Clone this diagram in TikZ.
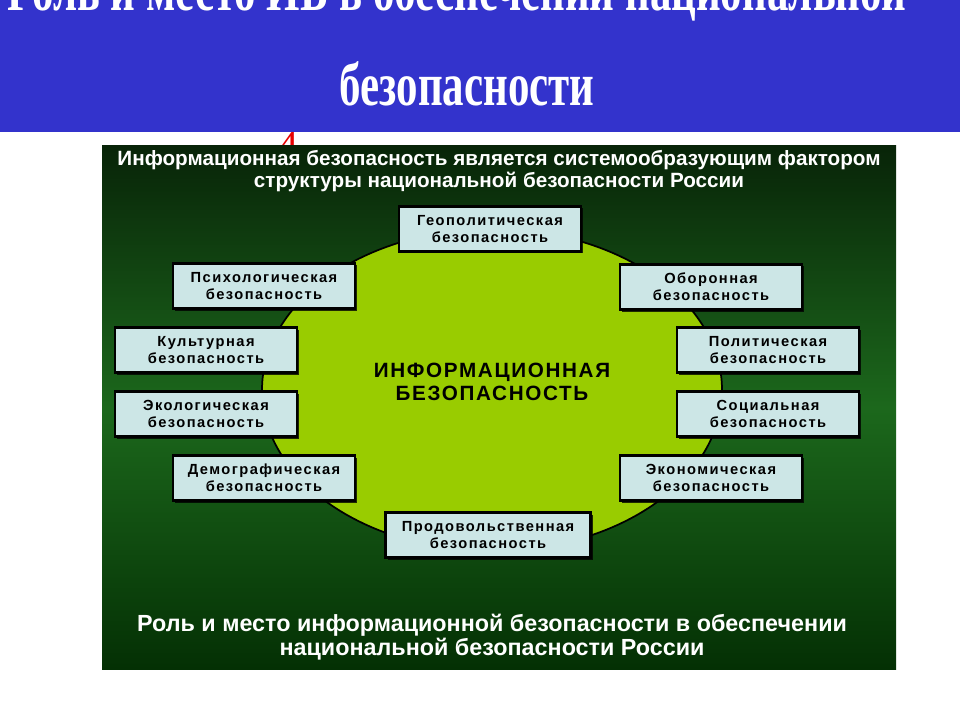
\documentclass[tikz,border=0pt]{standalone}
\usepackage{fontspec}
\setmainfont{Liberation Sans}
\newfontfamily\titlefont{Liberation Serif}
\newfontfamily\boxfont[LetterSpace=10]{Liberation Sans}
\newfontfamily\centerfont[LetterSpace=8]{Liberation Sans}
\usetikzlibrary{shadows}
\definecolor{banner}{RGB}{51,51,204}
\definecolor{boxfill}{RGB}{204,230,230}
\definecolor{ellfill}{RGB}{153,204,0}
\definecolor{gtop}{RGB}{8,36,8}
\definecolor{gmid}{RGB}{28,104,28}
\definecolor{gbot}{RGB}{4,48,4}
\definecolor{redfour}{RGB}{230,0,0}
\tikzset{
  secbox/.style={draw=black, line width=1.6pt, fill=boxfill, minimum width=182*0.75pt, minimum height=45*0.75pt, inner sep=0pt, align=center,
    font=\boxfont\bfseries\fontsize{11}{13}\selectfont, text=black,
    drop shadow={shadow xshift=1.5pt, shadow yshift=-1.5pt, fill=black, opacity=0.8}},
  whitetext/.style={text=white, align=center, inner sep=0pt},
  titletext/.style={text=white, inner sep=0pt, anchor=base, font=\titlefont\bfseries\fontsize{46}{50}\selectfont}
}
\begin{document}
\begin{tikzpicture}[x=0.75pt, y=-0.75pt]
\useasboundingbox (0,0) rectangle (960,720);
\fill[white] (0,0) rectangle (960,720);
% red mark
\node[text=redfour, inner sep=0pt, anchor=base, font=\titlefont\fontsize{30}{30}\selectfont] (four) at (288,159) {4};
% banner
\fill[banner] (0,0) rectangle (960,132);
\begin{scope}
\clip (0,0) rectangle (960,132);
\node[titletext] (title1) at (457,11) {\scalebox{0.7}[1]{Роль и место ИБ в обеспечении национальной}};
\node[titletext] (title2) at (467,106) {\scalebox{0.7}[1]{безопасности}};
\end{scope}
% green panel
\shade[top color=gtop, bottom color=gbot, middle color=gmid] (102,146) rectangle (896,669);
\node[whitetext, font=\bfseries\fontsize{15.5}{16.5}\selectfont] (head) at (499,171) {Информационная безопасность является системообразующим фактором\\структуры национальной безопасности России};
\node[whitetext, font=\bfseries\fontsize{17.5}{18.5}\selectfont] (foot) at (492,637) {Роль и место информационной безопасности в обеспечении\\национальной безопасности России};
% ellipse
\draw[line width=1.3pt, fill=ellfill] (492,390) ellipse [x radius=230, y radius=161];
\node[inner sep=0pt, align=center, font=\centerfont\bfseries\fontsize{15.5}{17.3}\selectfont] (ib) at (492,382) {ИНФОРМАЦИОННАЯ\\БЕЗОПАСНОСТЬ};
% boxes
\node[secbox] (geo) at (490,229) {Геополитическая\\безопасность};
\node[secbox] (psy) at (264,286) {Психологическая\\безопасность};
\node[secbox] (def) at (711,287) {Оборонная\\безопасность};
\node[secbox] (cul) at (206,350) {Культурная\\безопасность};
\node[secbox] (pol) at (768,350) {Политическая\\безопасность};
\node[secbox] (eco) at (206,414) {Экологическая\\безопасность};
\node[secbox] (soc) at (768,414) {Социальная\\безопасность};
\node[secbox] (dem) at (264,478) {Демографическая\\безопасность};
\node[secbox] (ecn) at (711,478) {Экономическая\\безопасность};
\node[secbox, minimum width=205*0.75pt] (food) at (488,535) {Продовольственная\\безопасность};
\end{tikzpicture}
\end{document}
